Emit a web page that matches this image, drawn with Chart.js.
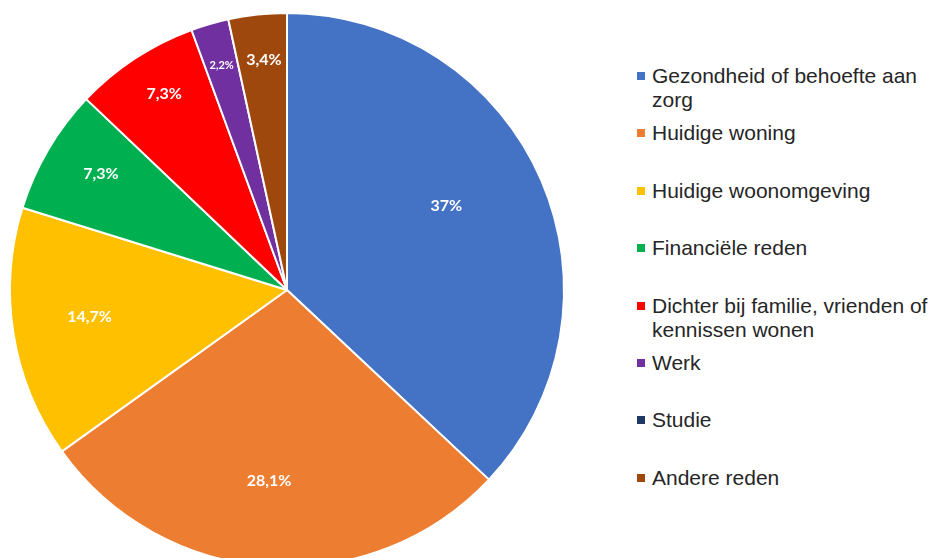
<!DOCTYPE html>
<html>
<head>
<meta charset="utf-8">
<script src="https://cdn.jsdelivr.net/npm/chart.js@4.4.0/dist/chart.umd.min.js"></script>
<style>
	html, body { margin: 0; padding: 0; background: #fff; width: 933px; height: 558px; overflow: hidden; }
	#wrap { position: absolute; left: 0; top: 0; width: 574px; height: 580px; }
	#legend { position: absolute; left: 637px; top: 0; font-family: "Liberation Sans", Arial, sans-serif; font-size: 21px; color: #262626; }
	.legend-item { position: absolute; left: 0; width: 296px; line-height: 24px; }
	.legend-color { position: absolute; left: 0; top: 8px; width: 8px; height: 8px; }
	.legend-text { display: block; margin-left: 15px; width: 290px; }
</style>
</head>
<body>
<div id="wrap"><canvas id="pieChart" width="574" height="580"></canvas></div>
<div id="legend"></div>
<script>
const labels = ['Gezondheid of behoefte aan zorg', 'Huidige woning', 'Huidige woonomgeving', 'Financiële reden',
	'Dichter bij familie, vrienden of kennissen wonen', 'Werk', 'Studie', 'Andere reden'];
const percentages = [37, 28.1, 14.7, 7.3, 7.3, 2.2, 0, 3.4];
const colors = ['#4472C4', '#ED7D31', '#FFC000', '#00B050', '#FF0000', '#7030A0', '#203864', '#9E480E'];

// plaats van de labels: deel van de straal en kleine hoekcorrectie (graden)
const labelDistance = [0.651, 0.691, 0.719, 0.791, 0.837, 0.845, 0.8, 0.835];
const labelShift = [-4.5, 1.6, 1.5, 1.5, 1.3, 0, 0, 0.4];
const labelFontSize = [16, 16, 16, 16, 16, 11, 16, 16];

function formatPct(v) {
	return String(v).replace('.', ',') + '%';
}

const pieLabels = {
	id: 'pieLabels',
	afterDatasetsDraw(chart) {
		const ctx = chart.ctx;
		const meta = chart.getDatasetMeta(0);
		ctx.save();
		ctx.fillStyle = '#ffffff';
		ctx.textAlign = 'center';
		ctx.textBaseline = 'middle';
		meta.data.forEach((arc, i) => {
			const v = percentages[i];
			if (!v) return;
			const mid = (arc.startAngle + arc.endAngle) / 2 + labelShift[i] * Math.PI / 180;
			const r = arc.outerRadius * labelDistance[i];
			ctx.font = 'bold ' + labelFontSize[i] + 'px Lato, "Open Sans", sans-serif';
			ctx.fillText(formatPct(v), arc.x + Math.cos(mid) * r, arc.y + Math.sin(mid) * r);
		});
		ctx.restore();
	}
};

new Chart(document.getElementById('pieChart').getContext('2d'), {
	type: 'pie',
	data: {
		labels: labels,
		datasets: [{
			data: percentages,
			backgroundColor: colors,
			borderColor: '#ffffff',
			borderWidth: 2,
			radius: 277
		}]
	},
	options: {
		responsive: false,
		animation: false,
		layout: { padding: 0 },
		plugins: {
			legend: { display: false },
			tooltip: { enabled: false }
		}
	},
	plugins: [pieLabels]
});

// Legenda
const legendContainer = document.getElementById('legend');
labels.forEach((name, i) => {
	const item = document.createElement('div');
	item.className = 'legend-item';
	item.style.top = (64 + i * 57.4) + 'px';

	const box = document.createElement('div');
	box.className = 'legend-color';
	box.style.backgroundColor = colors[i];

	const text = document.createElement('span');
	text.className = 'legend-text';
	text.textContent = name;

	item.appendChild(box);
	item.appendChild(text);
	legendContainer.appendChild(item);
});
</script>
</body>
</html>
